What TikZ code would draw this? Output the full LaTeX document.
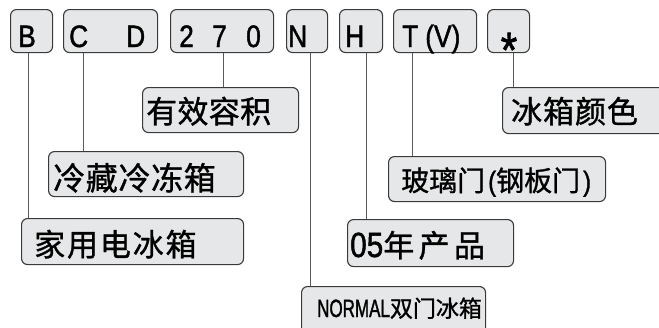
\documentclass[tikz,border=0pt]{standalone}
\usepackage{fontspec}
\newfontfamily\cjk[FakeBold=1]{Noto Sans CJK SC}
\newfontfamily\lat[FakeStretch=0.85,FakeBold=1.3]{Liberation Sans}
\newfontfamily\latn[FakeStretch=0.68,FakeBold=1.2]{Liberation Sans}
\definecolor{boxfill}{HTML}{E6E7E8}
\definecolor{boxline}{HTML}{3A3A3A}
\definecolor{connline}{HTML}{5A5A5A}
\newcommand{\fs}[1]{\fontsize{#1}{#1}\selectfont}
\tikzset{
  box/.style={draw=boxline, fill=boxfill, rounded corners=6pt, line width=1.1pt, inner sep=0pt, anchor=north west},
  conn/.style={draw=connline, line width=0.9pt},
  txt/.style={inner sep=0pt, anchor=base west, text=black}
}
\begin{document}
\begin{tikzpicture}[x=1pt,y=-1pt]
\useasboundingbox (0,0) rectangle (659,327);
\clip (0,0) rectangle (659,327);
% top boxes
\node[box, minimum width=42pt, minimum height=43pt] (B) at (10,9) {};
\node[box, minimum width=94pt, minimum height=43pt] (CD) at (63,9) {};
\node[box, minimum width=103pt, minimum height=43pt] (V) at (170,9) {};
\node[box, minimum width=41pt, minimum height=43pt] (N) at (286,9) {};
\node[box, minimum width=43pt, minimum height=43pt] (H) at (339,9) {};
\node[box, minimum width=83pt, minimum height=43pt] (TV) at (393,9) {};
\node[box, minimum width=42pt, minimum height=43pt] (S) at (487,9) {};
% bottom boxes
\node[box, minimum width=156pt, minimum height=45pt] (yx) at (142,87) {};
\node[box, minimum width=170pt, minimum height=46pt] (ys) at (502,87) {};
\node[box, minimum width=195pt, minimum height=45pt] (lc) at (48,151) {};
\node[box, minimum width=222pt, minimum height=46pt] (jy) at (21,218) {};
\node[box, minimum width=217pt, minimum height=45pt] (bl) at (388,156) {};
\node[box, minimum width=166pt, minimum height=47pt] (nc) at (347,219) {};
\node[box, minimum width=184pt, minimum height=60pt] (nm) at (301,286) {};
% connector x positions
\coordinate (xB) at (28,0);
\coordinate (xCD) at (83,0);
\coordinate (xV) at (223,0);
\coordinate (xN) at (310,0);
\coordinate (xH) at (366,0);
\coordinate (xTV) at (412,0);
\coordinate (xS) at (513,0);
\draw[conn] (B.south -| xB) -- (jy.north -| xB);
\draw[conn] (CD.south -| xCD) -- (lc.north -| xCD);
\draw[conn] (V.south -| xV) -- (yx.north -| xV);
\draw[conn] (N.south -| xN) -- (nm.north -| xN);
\draw[conn] (H.south -| xH) -- (nc.north -| xH);
\draw[conn] (TV.south -| xTV) -- (bl.north -| xTV);
\draw[conn] (S.south -| xS) -- (ys.north -| xS);
% top texts
\node[txt] (tB) at (18,47) {\lat\fs{31}B};
\node[txt] (tC) at (69,47) {\lat\fs{31}C};
\node[txt] (tD) at (126,47) {\lat\fs{31}D};
\node[txt] (t2) at (179,47) {\lat\fs{31}2};
\node[txt] (t7) at (212,47) {\lat\fs{31}7};
\node[txt] (t0) at (246,47) {\lat\fs{31}0};
\node[txt] (tN) at (288,47) {\lat\fs{31}N};
\node[txt] (tH) at (345,47) {\lat\fs{31}H};
\node[txt] (tTV) at (402,47) {\lat\fs{31}T\hspace{7pt}(V)};
\node[inner sep=0pt] (tS) at (509,50) {\lat\fs{50}*};
% bottom texts
\node[txt] (lyx) at (146,123) {\cjk\fs{31}\addfontfeature{LetterSpace=1}有效容积};
\node[txt] (lys) at (511,123) {\cjk\fs{31}\addfontfeature{LetterSpace=3}冰箱颜色};
\node[txt] (llc) at (53,190) {\cjk\fs{32}\addfontfeature{LetterSpace=2}冷藏冷冻箱};
\node[txt] (ljy) at (34,256) {\cjk\fs{31}\addfontfeature{LetterSpace=6}家用电冰箱};
\node[txt] (lbl) at (401,191) {\cjk\fs{28}玻璃门\hspace{3pt}\lat(\cjk 钢板门\hspace{3pt}\lat)};
\node[txt] (lnc) at (350,257) {\lat\fs{35}05\cjk\fs{31}\addfontfeature{LetterSpace=14}年产品};
\node[txt] (lnm) at (317,317) {\latn\fs{25}NORMAL\cjk\fs{23}双门冰箱};
\end{tikzpicture}
\end{document}
